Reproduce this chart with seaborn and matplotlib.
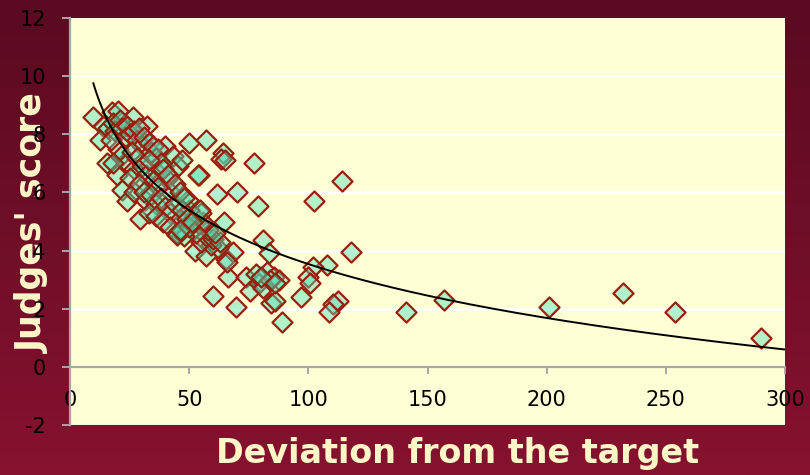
import numpy as np
import matplotlib
matplotlib.use("Agg")
import matplotlib.pyplot as plt
import seaborn as sns
from matplotlib.colors import LinearSegmentedColormap

# deviation from the target (x) and judges' score (y)
deviation = [
    290, 254, 232, 201, 157, 141,
    114, 102.5, 118, 108, 102, 100, 100.5, 97, 112.5, 110.5, 108.5, 89,
    77, 79, 81, 83.5, 84.5, 86, 69.5, 60, 66.5, 74, 75.5, 79.5, 82.5, 85.5,
    87.5, 81, 78, 84, 86, 80,
    65.5, 68.5, 52.5, 57, 66, 62, 59, 55, 57, 60, 63, 58, 61, 54, 56, 64.5,
    52, 55, 50, 53,
    57, 50, 64.3, 63.2, 65, 54, 61.5, 70,
    9.8, 14, 17.5, 20.3, 26.6, 32.2, 12.6, 15.4, 19.6, 21.7, 23.8, 29.4,
    31.5, 39.9, 43.4, 45.5, 36.4, 40.5, 42, 49.7, 54.6, 53.8,
    16, 18, 19, 21, 22, 23, 24, 25, 27, 28, 29, 30, 31, 33, 34, 35, 36, 37,
    38, 20, 22, 24, 26, 27, 28, 30, 32, 33, 35, 37, 39, 41, 44, 17, 18, 25,
    27, 29, 31, 34, 36, 38, 40, 42, 44, 46, 47, 33, 36, 39, 42, 45, 47, 48,
    50, 49, 51, 46, 48, 47, 44.8, 46.2,
]
score = [
    1.0, 1.9, 2.55, 2.05, 2.3, 1.9,
    6.4, 5.7, 3.95, 3.5, 3.45, 3.1, 2.9, 2.4, 2.25, 2.15, 1.9, 1.55,
    7.0, 5.55, 4.35, 3.9, 2.2, 2.25, 2.05, 2.45, 3.1, 3.1, 2.6, 2.9, 3.25, 3.1,
    3.0, 2.7, 3.2, 3.0, 2.9, 3.1,
    3.7, 3.95, 4.0, 3.8, 3.6, 4.1, 4.2, 4.3, 4.5, 4.4, 4.3, 4.7, 4.6, 4.9, 5.0, 5.0,
    5.2, 5.3, 5.4, 4.6,
    7.8, 7.7, 7.35, 7.15, 7.1, 6.6, 5.95, 6.0,
    8.6, 8.3, 8.75, 8.8, 8.6, 8.3, 7.8, 7.0, 6.6, 6.1, 5.7, 5.1,
    5.75, 7.6, 7.25, 6.9, 6.7, 6.45, 6.0, 5.75, 5.4, 6.6,
    8.2, 8.4, 8.1, 8.5, 8.2, 7.9, 8.3, 8.0, 8.1, 7.8, 8.2, 7.6, 7.9, 7.7, 7.4, 7.6, 7.2, 7.5,
    7.0, 7.5, 7.3, 7.0, 7.4, 6.8, 7.2, 6.9, 6.6, 7.1, 6.4, 6.2, 6.8, 6.6, 6.3, 7.8, 7.0, 6.5,
    6.0, 6.3, 6.0, 5.9, 5.6, 5.8, 5.5, 5.3, 5.6, 5.1, 5.4, 5.3, 5.2, 5.0, 4.8, 4.6, 4.7, 4.5,
    4.8, 5.1, 5.0, 6.0, 5.8, 7.1, 4.55, 4.7,
]

# logarithmic trend line as shown in the chart: y = a + b*ln(x)
trend_a = 15.86
trend_b = -2.676

x_ticks = [0, 50, 100, 150, 200, 250, 300]
y_ticks = [-2, 0, 2, 4, 6, 8, 10, 12]

BG_TOP = "#5a0a21"
BG_BOTTOM = "#86122f"
PLOT_BG = "#ffffd5"
CREAM = "#fdf7c8"
EDGE = "#9a1f0e"
FILL = (0.33, 0.88, 0.72, 0.45)

fig = plt.figure(figsize=(8.1, 4.75), dpi=100)

# maroon gradient behind everything
bg = fig.add_axes([0, 0, 1, 1], zorder=-10)
cmap = LinearSegmentedColormap.from_list("bg", [BG_TOP, BG_BOTTOM])
bg.imshow(np.linspace(0, 1, 256).reshape(-1, 1), aspect="auto", cmap=cmap,
          extent=[0, 1, 0, 1], origin="upper")
bg.set_axis_off()

ax = fig.add_axes([70 / 810, 1 - 425 / 475, 715 / 810, 407 / 475])
ax.set_facecolor(PLOT_BG)

sns.scatterplot(x=deviation, y=score, ax=ax, marker="D", s=105,
                color=FILL, edgecolor=EDGE, linewidth=1.6, zorder=3)

xs = np.linspace(min(deviation), 300, 300)
ax.plot(xs, trend_a + trend_b * np.log(xs), color="black", lw=1.4, zorder=4)

ax.set_xlim(0, 300)
ax.set_ylim(-2, 12)
ax.set_xticks(x_ticks)
ax.set_yticks(y_ticks)
ax.set_xticklabels([str(t) for t in x_ticks])
ax.set_yticklabels([str(t) for t in y_ticks])

for t in [2, 4, 6, 8, 10]:
    ax.axhline(t, color="white", lw=2, zorder=1)
ax.axhline(-2, color="#c8ccd8", lw=1, zorder=1)

for side in ["top", "right"]:
    ax.spines[side].set_visible(False)
ax.spines["bottom"].set_position(("data", 0))
ax.spines["left"].set_color("#a6a6a6")
ax.spines["bottom"].set_color("#a6a6a6")
ax.spines["left"].set_linewidth(1.6)
ax.spines["bottom"].set_linewidth(1.6)

ax.tick_params(axis="y", direction="out", length=5.5, width=1.4, color="#a6a6a6",
               pad=12, labelsize=15, labelcolor="black")
ax.tick_params(axis="x", direction="out", length=5, width=1.4, color="#a6a6a6",
               pad=12, labelsize=15, labelcolor="black")
ax.set_xlabel("")
ax.set_ylabel("")

fig.text(458 / 810, 1 - 463 / 475, "Deviation from the target", ha="center",
         va="baseline", fontsize=24, fontweight="bold", color=CREAM)
# sits underneath the tick numbers, as in the original
fig.text(33 / 810, 1 - 223 / 475, "Judges' score", ha="center", va="center",
         rotation=90, fontsize=25, fontweight="bold", color=CREAM, zorder=-5)

fig.savefig("out.png", dpi=100)
